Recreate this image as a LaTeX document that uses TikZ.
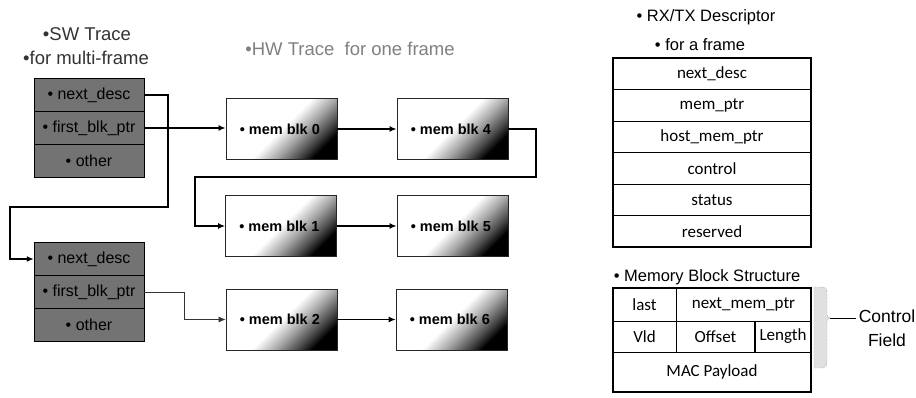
\documentclass[tikz,border=0pt]{standalone}
\usepackage{fontspec}
\setmainfont{Liberation Sans}
\newfontfamily\descfont{Carlito}
\usetikzlibrary{arrows.meta}
\pgfdeclarehorizontalshading{memshade}{100bp}{color(0bp)=(white); color(25bp)=(white); color(50bp)=(white); color(60bp)=(black!35); color(69bp)=(black!72); color(75bp)=(black); color(100bp)=(black)}
\tikzset{
  px/.style={x=1pt,y=-1pt},
  swbox/.style={draw=black, fill=black!55, minimum width=110pt, minimum height=33pt, inner sep=0pt, font=\fontsize{16}{16}\selectfont, text=black},
  membox/.style={draw=black!85, line width=0.8pt, shade, shading=memshade, shading angle=-45, minimum width=111pt, minimum height=61pt, inner sep=0pt},
  memtext/.style={anchor=west, inner sep=0pt, font=\bfseries\fontsize{14.5}{14.5}\selectfont},
  title/.style={inner sep=0pt, font=\fontsize{18.5}{18.5}\selectfont},
  rtitle/.style={inner sep=0pt, font=\fontsize{16.5}{16.5}\selectfont},
  cell/.style={draw=black, line width=0.6pt, inner sep=0pt, font=\descfont\fontsize{17}{17}\selectfont},
  conn/.style={-{Latex[length=7pt,width=6pt]}, line width=1.4pt},
  thinconn/.style={-{Latex[length=7pt,width=6pt]}, line width=0.8pt, black!80},
}
\begin{document}
\begin{tikzpicture}[px]
\useasboundingbox (0,0) rectangle (916,398);
% titles
\node[title, text=black!80] (swt1) at (87,34) {•SW Trace};
\node[title, text=black!80] (swt2) at (86,58) {•for multi-frame};
\node[title, text=black!50] (hwt) at (350,49) {•HW Trace\ \ for one frame};
\node[rtitle] (rxt) at (706,17) {• RX/TX Descriptor};
\node[rtitle] (rxf) at (700,45) {• for a frame};
\node[rtitle] (mbt) at (707,277) {• Memory Block Structure};
% SW trace boxes
\node[swbox] (s1a) at (89,95) {• next\_desc};
\node[swbox] (s1b) at (89,128) {• first\_blk\_ptr};
\node[swbox] (s1c) at (89,161) {• other};
\node[swbox] (s2a) at (89,259) {• next\_desc};
\node[swbox] (s2b) at (89,292) {• first\_blk\_ptr};
\node[swbox] (s2c) at (89,325) {• other};
% HW trace memory blocks
\node[membox] (a1) at (281.5,129) {};
\node[membox] (b1) at (452.5,129) {};
\node[membox] (a2) at (281,226) {};
\node[membox] (b2) at (452.5,226) {};
\node[membox] (a3) at (281.5,319.5) {};
\node[membox] (b3) at (451.5,319.5) {};
\node[memtext] (a1t) at ([xshift=14pt]a1.west) {• mem blk 0};
\node[memtext] (b1t) at ([xshift=14pt]b1.west) {• mem blk 4};
\node[memtext] (a2t) at ([xshift=14pt]a2.west) {• mem blk 1};
\node[memtext] (b2t) at ([xshift=14pt]b2.west) {• mem blk 5};
\node[memtext] (a3t) at ([xshift=14pt]a3.west) {• mem blk 2};
\node[memtext] (b3t) at ([xshift=14pt]b3.west) {• mem blk 6};
% connectors
\draw[conn] (s1a.east) -- (168,95) -- (168,207) -- (10,207) |- (s2a.west);
\draw[conn] (s1b.east) -- (s1b.east -| a1.west);
\draw[conn] (a1.east) -- (b1.west);
\draw[conn] (b1.east) -- (536,129) -- (536,177) -- (195,177) |- (a2.west);
\draw[conn] (a2.east) -- (b2.west);
\draw[thinconn] (s2b.east) -- (184,292) |- (a3.west);
\draw[conn, line width=1.1pt] (a3.east) -- (b3.west);
% RX/TX descriptor
\begin{scope}[every node/.style={cell, minimum width=198pt, minimum height=31.5pt}]
\node (d1) at (712,73.75) {next\_desc};
\node (d2) at (712,105.25) {mem\_ptr};
\node (d3) at (712,136.75) {host\_mem\_ptr};
\node (d4) at (712,168.25) {control};
\node (d5) at (712,199.75) {status};
\node (d6) at (712,231.25) {reserved};
\end{scope}
\draw[line width=2.2pt] (d1.north west) rectangle (d6.south east);
% memory block structure
\node[cell, minimum width=63pt, minimum height=33pt] (m11) at (644.5,304.5) {last};
\node[cell, minimum width=135pt, minimum height=33pt] (m12) at (743.5,304.5) {next\_mem\_ptr};
\node[cell, minimum width=63pt, minimum height=31pt] (m21) at (644.5,336.5) {Vld};
\node[cell, minimum width=79pt, minimum height=31pt] (m22) at (715.5,336.5) {Offset};
\node[cell, minimum width=56pt, minimum height=31pt] (m23) at (783,336.5) {Length};
\node[cell, minimum width=198pt, minimum height=40pt] (m3) at (712,372) {MAC Payload};
\draw[line width=1.8pt] (m22.north east) -- (m22.south east);
\draw[line width=2.2pt] (m11.north west) rectangle (m3.south east);
% control field brace
\draw[black!55, densely dotted, fill=black!12] (814,287) -- (822,287) .. controls (827,287) and (827,290) .. (827,295) -- (827,312) .. controls (827,316) .. (830,318) .. controls (827,320) .. (827,324) -- (827,361) .. controls (827,366) and (826,368) .. (821,368) -- (814,368) -- cycle;
\coordinate (bt) at (830,318);
\node[inner sep=0pt, align=center, font=\fontsize{17.5}{24}\selectfont] (ctl) at (887,328) {Control\\Field};
\draw[line width=0.8pt] (bt) -- (856,318);
\end{tikzpicture}
\end{document}
